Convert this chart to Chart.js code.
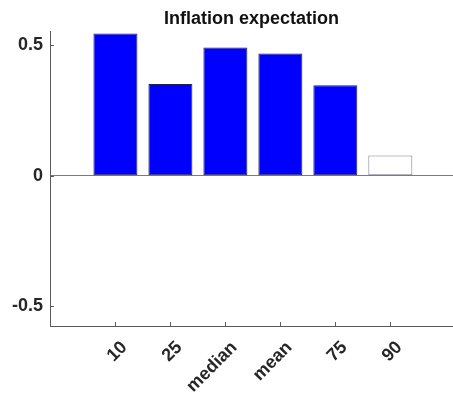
<!DOCTYPE html>
<html>
<head>
<meta charset="utf-8">
<script src="https://cdn.jsdelivr.net/npm/chart.js@4.4.1/dist/chart.umd.min.js"></script>
<style>
  html, body { margin: 0; padding: 0; background: #fff; }
  #c { display: block; }
</style>
</head>
<body>
<canvas id="c" width="453" height="396"></canvas>
<script>
// Distribution statistics of inflation expectations
const categories = ['10', '25', 'median', 'mean', '75', '90'];
const values = [0.545, 0.352, 0.492, 0.469, 0.347, 0.077];
const filled = [true, true, true, true, true, false];
const yTicks = [-0.5, 0, 0.5];
const yTickLabels = ['-0.5', '0', '0.5'];

const positions = categories.map((_, i) => i + 1);
const points = positions.map((p, i) => ({ x: p, y: values[i] }));

const axisColor = '#5a5a5a';
const textColor = '#262626';
const fontFamily = '"Liberation Sans", Arial, Helvetica, sans-serif';

// Short tick marks pointing into the plot area
const innerTicks = {
  id: 'innerTicks',
  afterDraw(chart) {
    const { ctx, chartArea, scales } = chart;
    ctx.save();
    ctx.strokeStyle = axisColor;
    ctx.lineWidth = 1;
    ctx.beginPath();
    positions.forEach(p => {
      const x = Math.round(scales.x.getPixelForValue(p)) + 0.5;
      ctx.moveTo(x, chartArea.bottom);
      ctx.lineTo(x, chartArea.bottom - 4);
    });
    yTicks.forEach(v => {
      const y = Math.round(scales.y.getPixelForValue(v)) + 0.5;
      ctx.moveTo(chartArea.left, y);
      ctx.lineTo(chartArea.left + 4, y);
    });
    ctx.stroke();
    ctx.restore();
  }
};

new Chart(document.getElementById('c'), {
  type: 'bar',
  data: {
    datasets: [{
      data: points,
      backgroundColor: filled.map(f => f ? '#0000ff' : '#ffffff'),
      borderColor: filled.map(f => f ? '#22224a' : '#7c7c96'),
      borderWidth: 1,
      borderSkipped: false,
      categoryPercentage: 1,
      barPercentage: 0.8
    }]
  },
  options: {
    responsive: false,
    animation: false,
    events: [],
    layout: { padding: { left: 0, right: 0, top: 0, bottom: 0 } },
    plugins: {
      legend: { display: false },
      tooltip: { enabled: false },
      title: {
        display: true,
        text: 'Inflation expectation',
        fullSize: false,
        color: '#111',
        font: { family: fontFamily, size: 18, weight: 'bold', lineHeight: 1.2 },
        padding: { top: 8, bottom: 1.4 }
      }
    },
    scales: {
      x: {
        type: 'linear',
        offset: false,
        min: -0.19,
        max: 7.14,
        afterBuildTicks(scale) {
          scale.ticks = positions.map(p => ({ value: p }));
        },
        afterFit(scale) { scale.height = 70; },
        grid: { display: false, drawTicks: false, offset: false },
        border: { display: true, color: axisColor, width: 1 },
        ticks: {
          autoSkip: false,
          minRotation: 45,
          maxRotation: 45,
          padding: 11,
          labelOffset: 9,
          color: textColor,
          font: { family: fontFamily, size: 18, weight: 'bold' },
          callback: (v) => categories[positions.indexOf(v)] ?? ''
        }
      },
      y: {
        min: -0.577,
        max: 0.555,
        afterBuildTicks(scale) {
          scale.ticks = yTicks.map(v => ({ value: v }));
        },
        afterFit(scale) { scale.width = 50; },
        grid: {
          display: true,
          drawTicks: false,
          drawOnChartArea: true,
          color: (ctx) => (ctx.tick && ctx.tick.value === 0) ? '#7a7a7a' : 'rgba(0,0,0,0)',
          lineWidth: 1
        },
        border: { display: true, color: axisColor, width: 1 },
        ticks: {
          padding: 7,
          color: textColor,
          font: { family: fontFamily, size: 18, weight: 'bold' },
          callback: (v) => yTickLabels[yTicks.indexOf(v)] ?? ''
        }
      }
    }
  },
  plugins: [innerTicks]
});
</script>
</body>
</html>
